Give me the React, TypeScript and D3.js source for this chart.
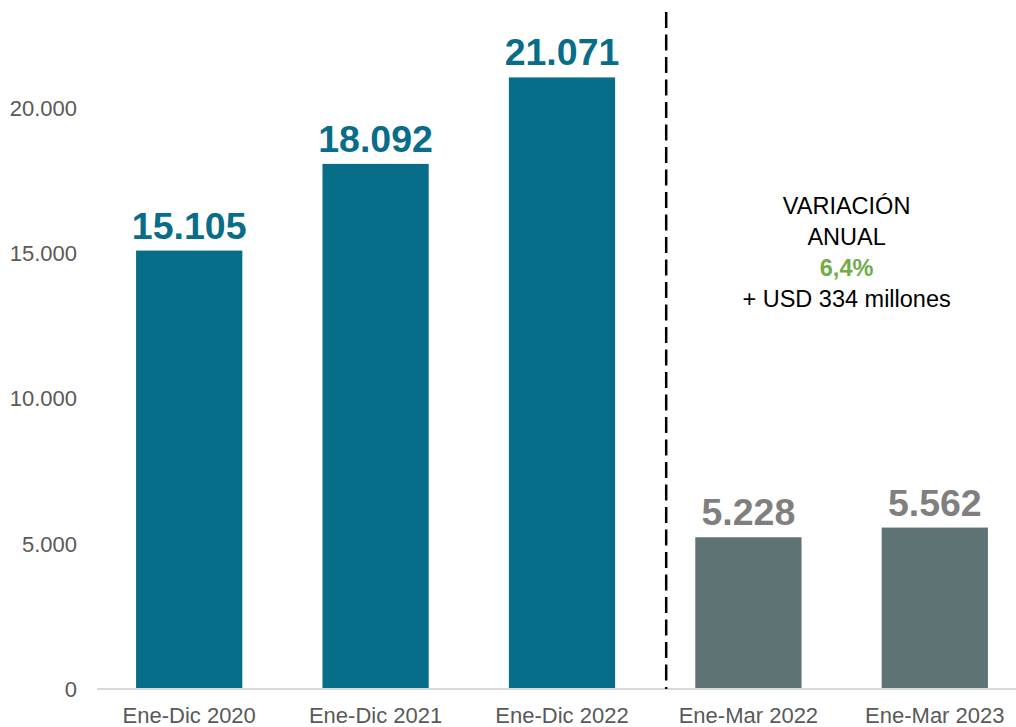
import React from "react";
import * as d3 from "d3";

const categories = ["Ene-Dic 2020", "Ene-Dic 2021", "Ene-Dic 2022", "Ene-Mar 2022", "Ene-Mar 2023"];
const values = [15105, 18092, 21071, 5228, 5562];
const valueLabels = ["15.105", "18.092", "21.071", "5.228", "5.562"];
const yTicks = [0, 5000, 10000, 15000, 20000];
const yTickLabels = ["0", "5.000", "10.000", "15.000", "20.000"];
const noteLines = ["VARIACIÓN", "ANUAL", "6,4%", "+ USD 334 millones"];

const W = 1016;
const H = 727;
const FONT = "'Liberation Sans', Arial, sans-serif";

const App = () => {
    const x = d3.scaleBand<string>()
        .domain(categories)
        .range([96, 1028])
        .paddingInner(0.43)
        .paddingOuter(0.215);

    const y = d3.scaleLinear().domain([0, 20000]).range([689, 108.5]);

    // annual bars are teal, quarter bars grey
    const barColor = (i: number) => (i < 3 ? "#076D88" : "#5E7373");
    const labelColor = (i: number) => (i < 3 ? "#076D88" : "#7F7F7F");

    // divider sits a bit closer to the quarter bars than the band midpoint
    const divX = (x(categories[3]) ?? 0) - x.step() * 0.156;
    const noteX = ((x(categories[3]) ?? 0) + (x(categories[4]) ?? 0) + x.bandwidth()) / 2 + 5;

    return (
        <svg width={W} height={H} style={{ position: "absolute", left: 0, top: 0, background: "#fff" }}>
            <g fontFamily={FONT}>
                {yTicks.map((t, i) => (
                    <text key={t} x={77} y={y(t)} dy="0.35em" textAnchor="end" fontSize={22} fill="#595959">
                        {yTickLabels[i]}
                    </text>
                ))}

                {values.map((v, i) => (
                    <rect
                        key={categories[i]}
                        x={x(categories[i])}
                        y={y(v)}
                        width={x.bandwidth()}
                        height={y(0) - y(v)}
                        fill={barColor(i)}
                    />
                ))}

                <line x1={97} x2={W} y1={y(0)} y2={y(0)} stroke="#D9D9D9" strokeWidth={2} />

                {values.map((v, i) => (
                    <text
                        key={"v" + i}
                        x={(x(categories[i]) ?? 0) + x.bandwidth() / 2}
                        y={y(v) - 12}
                        textAnchor="middle"
                        fontSize={37.5}
                        fontWeight="bold"
                        fill={labelColor(i)}
                    >
                        {valueLabels[i]}
                    </text>
                ))}

                {categories.map((c) => (
                    <text
                        key={"c" + c}
                        x={(x(c) ?? 0) + x.bandwidth() / 2}
                        y={723}
                        textAnchor="middle"
                        fontSize={22}
                        fill="#595959"
                    >
                        {c}
                    </text>
                ))}

                <line
                    x1={divX}
                    x2={divX}
                    y1={12}
                    y2={y(0)}
                    stroke="#000"
                    strokeWidth={2.5}
                    strokeDasharray="16 6.5"
                />

                {noteLines.map((t, i) => (
                    <text
                        key={"n" + i}
                        x={noteX}
                        y={214 + i * 31}
                        textAnchor="middle"
                        fontSize={23.5}
                        fontWeight={i === 2 ? "bold" : "normal"}
                        fill={i === 2 ? "#70AD47" : "#000"}
                    >
                        {t}
                    </text>
                ))}
            </g>
        </svg>
    );
};

export default App;
